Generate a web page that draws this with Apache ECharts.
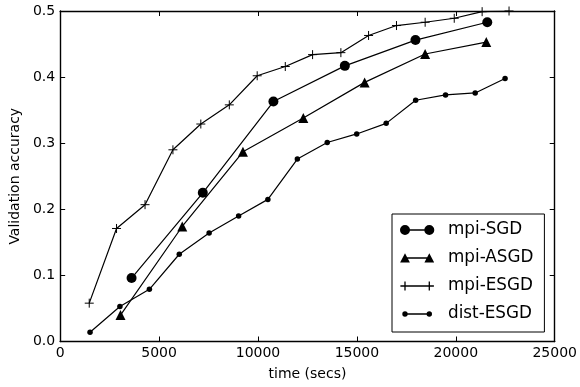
<!DOCTYPE html>
<html>
<head>
<meta charset="utf-8">
<script src="https://cdn.jsdelivr.net/npm/echarts@6/dist/echarts.min.js"></script>
<style>html,body{margin:0;padding:0;background:#fff;}#c{width:580px;height:387px;}</style>
</head>
<body>
<div id="c"></div>
<script>
// ---- data ----
const seriesNames = ['mpi-SGD', 'mpi-ASGD', 'mpi-ESGD', 'dist-ESGD'];
const sgdTime = [3610, 7210, 10780, 14390, 17960, 21590];
const sgdAcc  = [0.096, 0.225, 0.363, 0.417, 0.456, 0.483];
const asgdTime = [3050, 6170, 9240, 12290, 15390, 18450, 21540];
const asgdAcc  = [0.040, 0.174, 0.287, 0.338, 0.392, 0.435, 0.453];
const esgdTime = [1470, 2850, 4290, 5700, 7110, 8550, 9960, 11380, 12760, 14190, 15590, 17000, 18450, 19920, 21330, 22690];
const esgdAcc  = [0.058, 0.171, 0.207, 0.290, 0.329, 0.358, 0.402, 0.416, 0.434, 0.437, 0.463, 0.478, 0.483, 0.489, 0.499, 0.500];
const distTime = [1510, 3020, 4510, 6020, 7530, 9020, 10500, 11990, 13500, 14990, 16480, 17970, 19480, 20980, 22490];
const distAcc  = [0.014, 0.053, 0.079, 0.132, 0.164, 0.190, 0.215, 0.276, 0.301, 0.314, 0.330, 0.365, 0.373, 0.376, 0.398];
const xTicks = [0, 5000, 10000, 15000, 20000, 25000];
const yTicks = [0.0, 0.1, 0.2, 0.3, 0.4, 0.5];

const pairs = (xs, ys) => xs.map((x, i) => [x, ys[i]]);
const FONT = 'DejaVu Sans';
const corners = 'M0,0L0.01,0Z M43,12L42.99,12Z ';
const icons = {
  'mpi-SGD': 'path://' + corners +
    'M0,6 a5,5 0 1,1 10,0 a5,5 0 1,1 -10,0 Z ' +
    'M24.3,6 a5,5 0 1,1 10,0 a5,5 0 1,1 -10,0 Z ' +
    'M9.8,5.35 L24.5,5.35 L24.5,6.65 L9.8,6.65 Z',
  'mpi-ASGD': 'path://' + corners +
    'M5,1.2 L9.9,10.6 L0.1,10.6 Z M29.3,1.2 L34.2,10.6 L24.4,10.6 Z ' +
    'M7,5.35 L27.3,5.35 L27.3,6.65 L7,6.65 Z',
  'mpi-ESGD': 'path://' + corners +
    'M4.35,1.4 L5.65,1.4 L5.65,10.6 L4.35,10.6 Z M28.65,1.4 L29.95,1.4 L29.95,10.6 L28.65,10.6 Z ' +
    'M0.4,5.35 L33.9,5.35 L33.9,6.65 L0.4,6.65 Z',
  'dist-ESGD': 'path://' + corners +
    'M2.3,6 a2.7,2.7 0 1,1 5.4,0 a2.7,2.7 0 1,1 -5.4,0 Z ' +
    'M26.6,6 a2.7,2.7 0 1,1 5.4,0 a2.7,2.7 0 1,1 -5.4,0 Z ' +
    'M7,5.35 L27.3,5.35 L27.3,6.65 L7,6.65 Z'
};

const xMin = xTicks[0], xMax = xTicks[xTicks.length - 1], xInt = xTicks[1] - xTicks[0];
const yMin = yTicks[0], yMax = yTicks[yTicks.length - 1], yInt = 0.1;

const axisCommon = {
  axisLine: { show: true, onZero: false, lineStyle: { color: '#000', width: 1.4 } },
  axisTick: { show: true, inside: true, length: 5, lineStyle: { color: '#000', width: 1 } },
  splitLine: { show: false }
};

const chart = echarts.init(document.getElementById('c'), null, { renderer: 'canvas' });
const baseLine = { type: 'line', silent: true, animation: false, emphasis: { disabled: true },
  lineStyle: { color: '#000', width: 1.2 }, clip: true };
chart.setOption({
  backgroundColor: '#fff',
  animation: false,
  textStyle: { fontFamily: FONT },
  grid: { left: 59, right: 24, top: 11, bottom: 45.5, containLabel: false },
  legend: {
    orient: 'vertical', left: 392, top: 214,
    padding: [7, 11, 9, 8], itemGap: 10, itemWidth: 43, itemHeight: 12,
    backgroundColor: '#fff', borderColor: '#000', borderWidth: 1, borderRadius: 0,
    selectedMode: false,
    textStyle: { fontFamily: FONT, fontSize: 16.8, color: '#000', lineHeight: 18 },
    data: seriesNames.map(n => ({ name: n, icon: icons[n], itemStyle: { color: '#000', borderWidth: 0 } }))
  },
  xAxis: [
    Object.assign({ type: 'value', position: 'bottom', min: xMin, max: xMax, interval: xInt,
      name: 'time (secs)', nameLocation: 'middle', nameGap: 26,
      nameTextStyle: { fontFamily: FONT, fontSize: 14, color: '#000' },
      axisLabel: { fontFamily: FONT, fontSize: 14, color: '#000', margin: 5, formatter: v => String(v) } }, axisCommon),
    Object.assign({ type: 'value', position: 'top', min: xMin, max: xMax, interval: xInt,
      axisLabel: { show: false } }, axisCommon)
  ],
  yAxis: [
    Object.assign({ type: 'value', position: 'left', min: yMin, max: yMax, interval: yInt,
      name: 'Validation accuracy', nameLocation: 'middle', nameGap: 34, nameRotate: 90,
      nameTextStyle: { fontFamily: FONT, fontSize: 14, color: '#000' },
      axisLabel: { fontFamily: FONT, fontSize: 14, color: '#000', margin: 5, formatter: v => v.toFixed(1) } }, axisCommon),
    Object.assign({ type: 'value', position: 'right', min: yMin, max: yMax, interval: yInt,
      axisLabel: { show: false } }, axisCommon)
  ],
  series: [
    Object.assign({}, baseLine, { name: 'mpi-SGD', data: pairs(sgdTime, sgdAcc), symbol: 'circle', symbolSize: 10,
      itemStyle: { color: '#000' }, z: 4 }),
    Object.assign({}, baseLine, { name: 'mpi-ASGD', data: pairs(asgdTime, asgdAcc), symbol: 'triangle', symbolSize: 10,
      itemStyle: { color: '#000' }, z: 3 }),
    Object.assign({}, baseLine, { name: 'mpi-ESGD', data: pairs(esgdTime, esgdAcc),
      symbol: 'path://M5,0L5,10M0,5L10,5', symbolSize: 9,
      itemStyle: { color: 'transparent', borderColor: '#000', borderWidth: 1 }, z: 2 }),
    Object.assign({}, baseLine, { name: 'dist-ESGD', data: pairs(distTime, distAcc), symbol: 'circle', symbolSize: 5.5,
      itemStyle: { color: '#000' }, z: 1 })
  ]
});
</script>
</body>
</html>
